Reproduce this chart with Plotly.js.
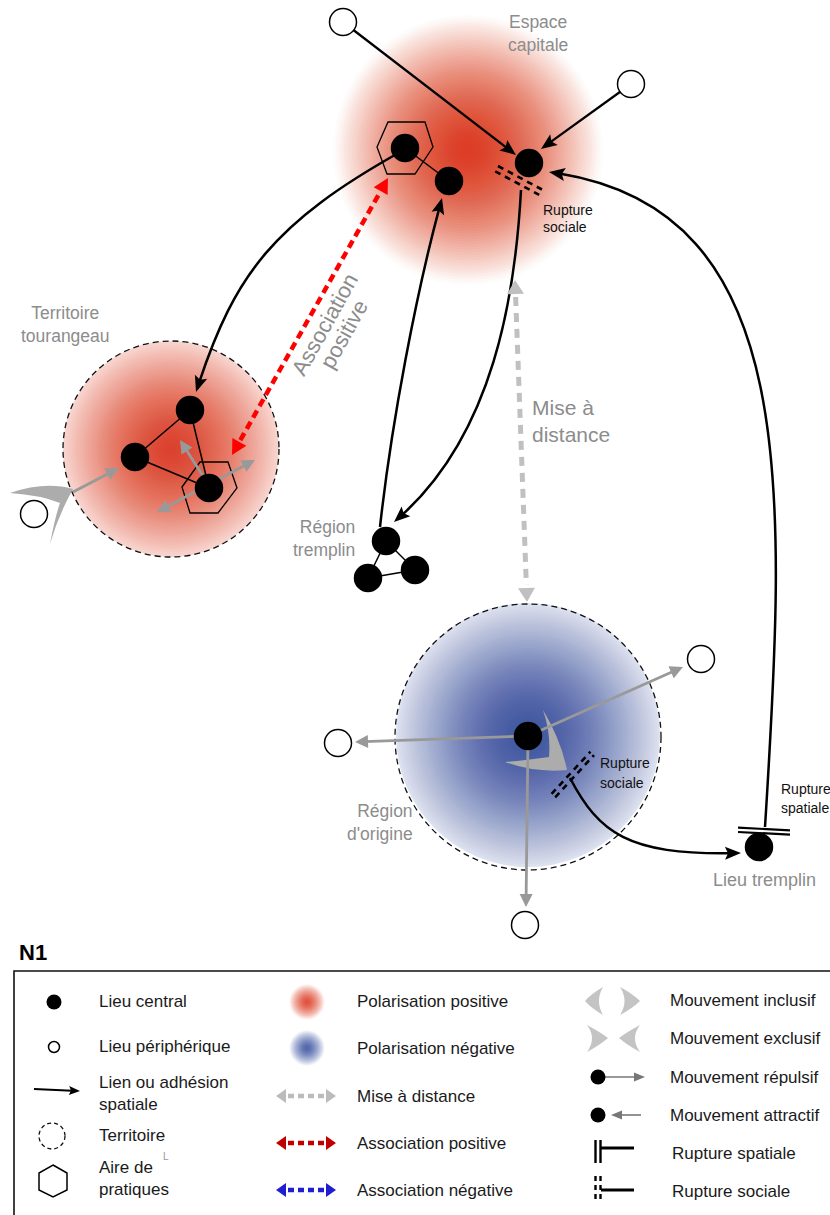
<!DOCTYPE html>
<html><head><meta charset="utf-8">
<script src="https://cdn.plot.ly/plotly-3.0.1.min.js"></script>
<style>html,body{margin:0;padding:0;background:#fff;}#chart{width:830px;height:1215px;}</style>
</head><body><div id="chart"></div>
<script>
// ================= DATA =================
// Lieux centraux (black nodes)
const centralNames = ['Espace capitale','Capitale (aire)','Capitale 2','Tours 1','Tours 2','Tours (aire)','Tremplin 1','Tremplin 2','Tremplin 3','Région d\'origine','Lieu tremplin'];
const centralX = [529, 405, 449, 190, 135, 209, 386, 368, 415, 528, 759];
const centralY = [163, 148, 181, 410, 457, 488, 541, 578, 570, 736, 847];
// Lieux périphériques (white nodes)
const periphX = [343, 631, 34, 701, 338, 525];
const periphY = [22, 84, 514, 659, 743, 925];
// thin links between central places (indices)
const linkFrom = [1, 3, 3, 4, 6, 6, 7];
const linkTo   = [2, 4, 5, 5, 7, 8, 8];
// straight black arrows (peripheral -> capital)
const blackArrowX0 = [343, 631], blackArrowY0 = [22, 84];
const blackArrowX1 = [516, 541], blackArrowY1 = [155, 149];
// curved black arrows (cubic bezier control points)
const curveX = [[402,269,233,196],[380,392,418,442],[521,515,492,394],[765,787,800,549],[570,600,630,741]];
const curveY = [[151,225,278,392],[527,418,285,198],[190,300,440,522],[827,480,205,172],[778,835,856,853]];
// gray repulsive arrows
const grayX0 = [73, 203, 528, 528, 528], grayY0 = [492, 476, 736, 736, 736];
const grayX1 = [119, 180, 355, 683, 526], grayY1 = [468, 440, 742, 667, 907];
const grayDblX = [157, 255], grayDblY = [512, 460];
// dotted associations
const assocX = [388, 232], assocY = [178, 455];
const distX = [515, 527], distY = [280, 602];
// territories
const terrX = [171, 528], terrY = [449, 737], terrR = [108, 133];
// practice areas (hexagons)
const hexCapX = [377,388,425,433,415,387], hexCapY = [147,122,122,147,174,174];
const hexTouX = [182,200,228,237,218,190], hexTouY = [487,462,462,488,513,513];

// ================= HELPERS =================
const shapes = [], annotations = [];
const FONT = 'Liberation Sans, Arial, Helvetica, sans-serif';
const GRAYTXT = '#8c8c8c';
function line(x0,y0,x1,y1,color,width,dash){
  shapes.push({type:'line',xref:'x',yref:'y',x0,y0,x1,y1,line:{color,width,dash:dash||'solid'},layer:'below'});
}
function head(xt,yt,dx,dy,len,hw,color,notch){
  const n=Math.hypot(dx,dy); dx/=n; dy/=n;
  const bx=xt-dx*len, by=yt-dy*len, px=-dy, py=dx;
  const nx=bx+dx*(notch||0), ny=by+dy*(notch||0);
  const path=`M ${xt},${yt} L ${bx+px*hw},${by+py*hw} L ${nx},${ny} L ${bx-px*hw},${by-py*hw} Z`;
  shapes.push({type:'path',xref:'x',yref:'y',path,fillcolor:color,line:{width:0},layer:'below'});
}
function arrow(x0,y0,x1,y1,color,width,len,hw,o){
  o=o||{};
  const dx=x1-x0, dy=y1-y0, L=Math.hypot(dx,dy), ux=dx/L, uy=dy/L;
  const cut=o.cut!==undefined?o.cut:len*0.7;
  const sx=o.both?x0+ux*cut:x0, sy=o.both?y0+uy*cut:y0;
  line(sx,sy,x1-ux*cut,y1-uy*cut,color,width,o.dash);
  head(x1,y1,ux,uy,len,hw,color,o.notch);
  if(o.both) head(x0,y0,-ux,-uy,len,hw,color,o.notch);
}
function bz(p,t){const m=1-t;return m*m*m*p[0]+3*m*m*t*p[1]+3*m*t*t*p[2]+t*t*t*p[3];}
function split(p,t){
  const l=(a,b)=>a+(b-a)*t;
  const a=l(p[0],p[1]), b=l(p[1],p[2]), c=l(p[2],p[3]);
  const d=l(a,b), e=l(b,c);
  return [p[0],a,d,l(d,e)];
}
function curveArrow(xs,ys,color,width,len,hw,notch){
  let t=1; while(t>0.5 && Math.hypot(bz(xs,t)-xs[3],bz(ys,t)-ys[3])<len*0.6) t-=0.002;
  const sx=split(xs,t), sy=split(ys,t);
  shapes.push({type:'path',xref:'x',yref:'y',path:`M ${sx[0]},${sy[0]} C ${sx[1]},${sy[1]} ${sx[2]},${sy[2]} ${sx[3]},${sy[3]}`,line:{color,width},fillcolor:'rgba(0,0,0,0)',layer:'below'});
  let t2=1; while(t2>0.5 && Math.hypot(bz(xs,t2)-xs[3],bz(ys,t2)-ys[3])<len) t2-=0.002;
  head(xs[3],ys[3],xs[3]-bz(xs,t2),ys[3]-bz(ys,t2),len,hw,color,notch);
}
function blob(cx,cy,rClip,rEff,rgb,fmax,N){
  let prev=0;
  for(let k=0;k<N;k++){
    const r=rClip*(N-k)/N, rm=rClip*(N-k-0.5)/N;
    const tgt=fmax*(1-Math.pow(rm/rEff,1.5));
    const a=Math.max(0,1-(1-tgt)/(1-prev)); prev=tgt;
    shapes.push({type:'circle',xref:'x',yref:'y',x0:cx-r,x1:cx+r,y0:cy-r,y1:cy+r,fillcolor:`rgba(${rgb},${a.toFixed(4)})`,line:{width:0},layer:'below'});
  }
}
function poly(xs,ys,o){
  let p='M '+xs.map((x,i)=>x+','+ys[i]).join(' L ')+' Z';
  shapes.push({type:'path',xref:'x',yref:'y',path:p,fillcolor:o.fill||'rgba(0,0,0,0)',line:{color:o.color||'black',width:o.width===undefined?1.3:o.width},layer:'below'});
}
function pathShape(p,fill){shapes.push({type:'path',xref:'x',yref:'y',path:p,fillcolor:fill,line:{width:0},layer:'below'});}
function txt(t,x,y,size,color,xa,extra){
  annotations.push(Object.assign({text:t,x,y,xref:'x',yref:'y',showarrow:false,xanchor:xa||'center',yanchor:'middle',font:{family:FONT,size,color}},extra||{}));
}

// ================= DRAWING =================
// polarisations
blob(468,150,135,135,'222,55,30',0.95,50);
blob(terrX[0],terrY[0],terrR[0],128,'222,55,30',0.9,45);
blob(terrX[1],terrY[1]-2,terrR[1]-1,150,'55,80,160',0.93,50);
// territories
for(let i=0;i<terrX.length;i++){
  shapes.push({type:'circle',xref:'x',yref:'y',x0:terrX[i]-terrR[i],x1:terrX[i]+terrR[i],y0:terrY[i]-terrR[i],y1:terrY[i]+terrR[i],line:{color:'#111',width:1.3,dash:'6px,4px'},fillcolor:'rgba(0,0,0,0)',layer:'below'});
}
// practice areas
poly(hexCapX,hexCapY,{});
poly(hexTouX,hexTouY,{});
// movements (boomerangs)
pathShape('M 10,493 Q 45,481 73,489 Q 58,516 50,544 Q 55,517 60,503 Q 40,495 10,493 Z','#acacac');
pathShape('M 543,710 Q 561,740 567,770 Q 535,773 505,762 Q 530,760 549,757 Q 551,733 543,710 Z','#acacac');
// thin links
for(let i=0;i<linkFrom.length;i++) line(centralX[linkFrom[i]],centralY[linkFrom[i]],centralX[linkTo[i]],centralY[linkTo[i]],'#000',1.5);
// straight black arrows
for(let i=0;i<blackArrowX0.length;i++) arrow(blackArrowX0[i],blackArrowY0[i],blackArrowX1[i],blackArrowY1[i],'#000',2.3,16,6.5,{notch:3});
// curved black arrows
for(let i=0;i<curveX.length;i++) curveArrow(curveX[i],curveY[i],'#000',2.5,16,6.5,3);
// gray arrows
for(let i=0;i<grayX0.length;i++) arrow(grayX0[i],grayY0[i],grayX1[i],grayY1[i],'#999',2.8,13,6.5);
arrow(grayDblX[0],grayDblY[0],grayDblX[1],grayDblY[1],'#999',2.8,13,6.5,{both:true});
// dotted associations
arrow(assocX[1],assocY[1],assocX[0],assocY[0],'#ff0000',4.5,15,8,{both:true,dash:'8px,5px',cut:17});
arrow(distX[0],distY[0],distX[1],distY[1],'#c0c0c0',5,14,8.5,{both:true,dash:'9px,7px',cut:17});
// ruptures sociales
line(498,166,542,189.5,'#000',2.6,'6px,5px'); line(495.2,171.3,539.2,194.8,'#000',2.6,'6px,5px');
line(551.6,793.9,590.4,751.7,'#000',2.6,'6px,5px'); line(555.2,797.3,594,755.1,'#000',2.6,'6px,5px');
// rupture spatiale
line(738,827.7,790,830.3,'#000',2.2); line(738,832,790,834.6,'#000',2.2);

// ----- labels -----
txt('Espace<br>capitale',538,33,17.5,GRAYTXT,'center',{});
txt('Rupture',541,210,14,'#111','left'); txt('sociale',541,227,14,'#111','left');
txt('Territoire<br>tourangeau',65,324,17.5,GRAYTXT);
txt('Association',324.5,324,22,GRAYTXT,'center',{textangle:-61});
txt('positive',344,334.5,22,GRAYTXT,'center',{textangle:-61});
txt('Mise à<br>distance',530,421,21,GRAYTXT,'left',{align:'left'});
txt('Région<br>tremplin',357,538,17.5,GRAYTXT,'right',{align:'right'});
txt('Rupture',598,763,14,'#111','left'); txt('sociale',598,783,14,'#111','left');
txt('Rupture',779,789,14,'#111','left'); txt('spatiale',779,808,14,'#111','left');
txt('Région<br>d\'origine',415,822,17.5,GRAYTXT,'right',{align:'right'});
txt('Lieu tremplin',764,880,18,GRAYTXT);

// ================= LEGEND =================
txt('<b>N1</b>',17,952,22,'#000','left');
shapes.push({type:'rect',xref:'x',yref:'y',x0:14,y0:971,x1:845,y1:1230,line:{color:'#111',width:1.6},fillcolor:'rgba(0,0,0,0)',layer:'below'});
const LT='#1a1a1a', LS=17;
// col 1
arrow(34,1089,80,1091,'#000',2,11,4.5,{notch:2});
shapes.push({type:'circle',xref:'x',yref:'y',x0:39,x1:65,y0:1123,y1:1149,line:{color:'#111',width:1.3,dash:'4px,3px'},fillcolor:'rgba(0,0,0,0)',layer:'below'});
poly([53,67,67,53,39,39],[1165,1173,1190,1197,1190,1173],{width:1.5});
txt('Lieu central',97,1001,LS,LT,'left');
txt('Lieu périphérique',97,1046,LS,LT,'left');
txt('Lien ou adhésion<br>spatiale',97,1093,LS,LT,'left',{align:'left'});
txt('Territoire',97,1135,LS,LT,'left');
txt('Aire de<br>pratiques',97,1178,LS,LT,'left',{align:'left'});
txt('L',161,1156,10,'#999','left');
// col 2
blob(307,1002,18,18,'222,55,30',0.85,18);
blob(307,1048,18,18,'55,80,160',0.85,18);
arrow(276,1096,336,1096,'#bbbbbb',4.5,10,7,{both:true,dash:'6px,4px',cut:12});
arrow(276,1143,336,1143,'#c00000',4.5,10,7,{both:true,dash:'6px,4px',cut:12});
arrow(276,1190,336,1190,'#1f1fd0',4.5,10,7,{both:true,dash:'6px,4px',cut:12});
txt('Polarisation positive',355,1001,LS,LT,'left');
txt('Polarisation négative',355,1048,LS,LT,'left');
txt('Mise à distance',355,1096,LS,LT,'left');
txt('Association positive',355,1143,LS,LT,'left');
txt('Association négative',355,1190,LS,LT,'left');
// col 3
pathShape('M 603,987 Q 591,994 585,1001 Q 591,1008 603,1015 Q 595,1001 603,987 Z','#c4c4c4');
pathShape('M 620,987 Q 633,994 640,1001 Q 633,1008 620,1015 Q 629,1001 620,987 Z','#c4c4c4');
pathShape('M 587,1025 Q 600,1032 608,1038 Q 600,1045 587,1052 Q 597,1038 587,1025 Z','#c4c4c4');
pathShape('M 640,1025 Q 627,1032 619,1038 Q 627,1045 640,1052 Q 630,1038 640,1025 Z','#c4c4c4');
arrow(604,1077,645,1077,'#777',1.6,11,4.5);
arrow(641,1115,611,1115,'#777',1.6,11,4.5);
line(595.5,1140,595.5,1163,'#000',2.4); line(600.5,1140,600.5,1163,'#000',2.4); line(601,1148,634,1148,'#000',3);
line(595.5,1176,595.5,1203,'#000',2.4,'5px,4px'); line(600.5,1176,600.5,1203,'#000',2.4,'5px,4px'); line(601,1190,634,1190,'#000',3);
txt('Mouvement inclusif',668,1000,LS,LT,'left');
txt('Mouvement exclusif',668,1038,LS,LT,'left');
txt('Mouvement répulsif',668,1077,LS,LT,'left');
txt('Mouvement attractif',668,1115,LS,LT,'left');
txt('Rupture spatiale',670,1153,LS,LT,'left');
txt('Rupture sociale',670,1191,LS,LT,'left');

// legend dots
const legDotX = [54, 598, 598], legDotY = [1002, 1077, 1115];
const legOpenX = [54], legOpenY = [1047];

// ================= TRACES =================
const traces = [
  {type:'scatter',mode:'markers',x:centralX,y:centralY,text:centralNames,hoverinfo:'text',marker:{size:28.5,color:'#000',line:{width:0}},showlegend:false},
  {type:'scatter',mode:'markers',x:periphX,y:periphY,hoverinfo:'skip',marker:{size:27,color:'#fff',line:{width:1.5,color:'#000'}},showlegend:false},
  {type:'scatter',mode:'markers',x:legDotX,y:legDotY,hoverinfo:'skip',marker:{size:15,color:'#000'},showlegend:false},
  {type:'scatter',mode:'markers',x:legOpenX,y:legOpenY,hoverinfo:'skip',marker:{size:11,color:'#fff',line:{width:1.5,color:'#000'}},showlegend:false}
];
const layout = {
  width:830,height:1215,margin:{l:0,r:0,t:0,b:0,pad:0},
  paper_bgcolor:'#fff',plot_bgcolor:'#fff',showlegend:false,
  xaxis:{range:[0,830],visible:false,fixedrange:true},
  yaxis:{range:[1215,0],visible:false,fixedrange:true},
  shapes,annotations
};
Plotly.newPlot('chart',traces,layout,{staticPlot:true,displayModeBar:false});
</script></body></html>
